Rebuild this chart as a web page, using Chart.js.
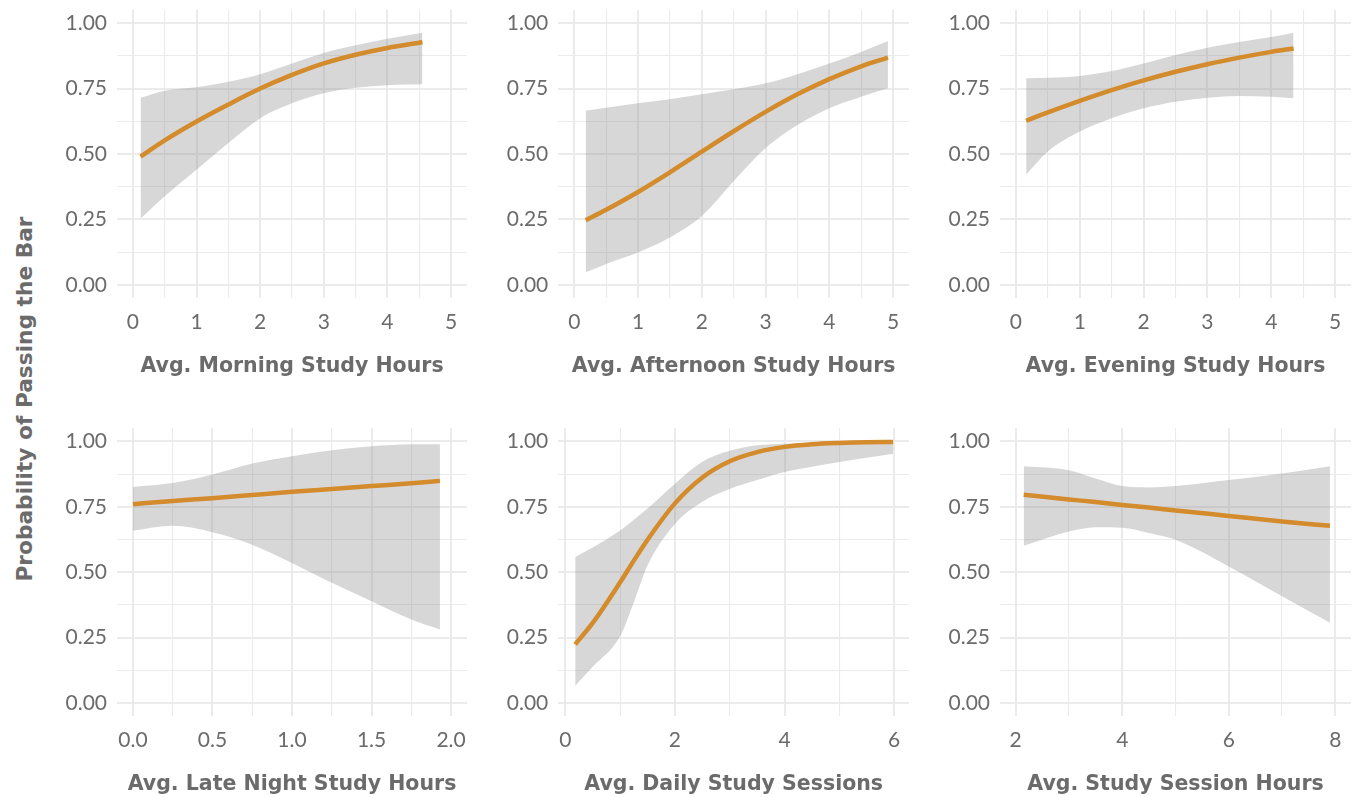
<!DOCTYPE html>
<html>
<head>
<meta charset="utf-8">
<script src="https://cdn.jsdelivr.net/npm/chart.js@4.4.1/dist/chart.umd.min.js"></script>
<style>
  html, body { margin: 0; padding: 0; background: #ffffff; }
  body { width: 1361px; height: 797px; position: relative; overflow: hidden; font-family: Lato, "Open Sans", sans-serif; }
  canvas { position: absolute; }
  #ytitle {
    position: absolute; left: 24px; top: 399px;
    transform: translate(-50%, -50%) rotate(-90deg);
    white-space: nowrap; font-family: "DejaVu Sans", sans-serif; font-weight: bold;
    font-size: 21.7px; color: #6b6b6b;
  }
</style>
</head>
<body>
<div id="ytitle">Probability of Passing the Bar</div>
<canvas id="c1"></canvas><canvas id="c2"></canvas><canvas id="c3"></canvas>
<canvas id="c4"></canvas><canvas id="c5"></canvas><canvas id="c6"></canvas>
<script>
// ---------------- data ----------------
const yTicks = [0, 0.125, 0.25, 0.375, 0.5, 0.625, 0.75, 0.875, 1];
const yMajor = [0, 0.25, 0.5, 0.75, 1];

const morningX     = [0.12, 0.5, 1, 1.5, 2, 2.5, 3, 3.5, 4, 4.55];
const morningFit   = [0.49, 0.552, 0.624, 0.689, 0.75, 0.802, 0.846, 0.879, 0.905, 0.927];
const morningUpper = [0.715, 0.742, 0.755, 0.776, 0.805, 0.846, 0.886, 0.915, 0.94, 0.963];
const morningLower = [0.254, 0.339, 0.44, 0.542, 0.637, 0.694, 0.732, 0.753, 0.763, 0.766];

const afternoonX     = [0.18, 0.5, 1, 1.5, 2, 2.5, 3, 3.5, 4, 4.5, 4.92];
const afternoonFit   = [0.247, 0.287, 0.355, 0.43, 0.509, 0.587, 0.661, 0.728, 0.786, 0.835, 0.868];
const afternoonUpper = [0.666, 0.677, 0.694, 0.709, 0.728, 0.747, 0.77, 0.805, 0.846, 0.89, 0.932];
const afternoonLower = [0.048, 0.08, 0.124, 0.181, 0.263, 0.396, 0.523, 0.611, 0.675, 0.719, 0.751];

const eveningX     = [0.16, 0.5, 1, 1.5, 2, 2.5, 3, 3.5, 4, 4.35];
const eveningFit   = [0.627, 0.659, 0.703, 0.744, 0.781, 0.814, 0.843, 0.868, 0.89, 0.903];
const eveningUpper = [0.789, 0.791, 0.798, 0.817, 0.846, 0.878, 0.906, 0.928, 0.947, 0.963];
const eveningLower = [0.422, 0.51, 0.586, 0.637, 0.675, 0.70, 0.715, 0.722, 0.719, 0.713];

const lateX     = [0, 0.25, 0.5, 0.75, 1, 1.25, 1.5, 1.75, 1.93];
const lateFit   = [0.76, 0.772, 0.783, 0.795, 0.807, 0.818, 0.829, 0.84, 0.849];
const lateUpper = [0.826, 0.841, 0.873, 0.915, 0.943, 0.966, 0.981, 0.989, 0.989];
const lateLower = [0.658, 0.677, 0.653, 0.605, 0.535, 0.459, 0.389, 0.319, 0.281];

const sessionsX     = [0.18, 0.5, 1, 1.25, 1.5, 2, 2.5, 3, 3.5, 4, 4.5, 5, 5.5, 5.98];
const sessionsFit   = [0.224, 0.306, 0.461, 0.544, 0.624, 0.763, 0.862, 0.924, 0.959, 0.979, 0.989, 0.994, 0.997, 0.998];
const sessionsUpper = [0.558, 0.594, 0.659, 0.70, 0.743, 0.838, 0.922, 0.964, 0.985, 0.991, 0.994, 0.996, 0.997, 0.998];
const sessionsLower = [0.066, 0.138, 0.255, 0.385, 0.525, 0.684, 0.769, 0.818, 0.852, 0.883, 0.903, 0.921, 0.937, 0.953];

const hoursX     = [2.15, 3, 3.5, 4, 4.5, 5, 6, 7, 7.9];
const hoursFit   = [0.796, 0.778, 0.768, 0.757, 0.747, 0.736, 0.715, 0.694, 0.677];
const hoursUpper = [0.905, 0.89, 0.858, 0.829, 0.824, 0.829, 0.852, 0.877, 0.905];
const hoursLower = [0.601, 0.655, 0.672, 0.670, 0.650, 0.624, 0.522, 0.408, 0.307];

const xTicksTop   = [0, 0.5, 1, 1.5, 2, 2.5, 3, 3.5, 4, 4.5, 5];
const xMajorTop   = [0, 1, 2, 3, 4, 5];
const xTicksLate  = [0, 0.25, 0.5, 0.75, 1, 1.25, 1.5, 1.75, 2];
const xMajorLate  = [0, 0.5, 1, 1.5, 2];
const xTicksSess  = [0, 1, 2, 3, 4, 5, 6];
const xMajorSess  = [0, 2, 4, 6];
const xTicksHours = [2, 3, 4, 5, 6, 7, 8];
const xMajorHours = [2, 4, 6, 8];

// ---------------- style ----------------
const LINE = '#D38B2B';
const RIBBON = 'rgba(150,150,150,0.38)';
const GRID = '#ebebeb';
const TEXT = '#6b6b6b';
const FONT = 'Lato, "Open Sans", sans-serif';
const TFONT = '"DejaVu Sans", sans-serif';

function pts(xs, ys) { return xs.map((x, i) => ({x: x, y: ys[i]})); }
function has(arr, v) { return arr.some(a => Math.abs(a - v) < 1e-9); }

function panel(id, cfg) {
  const cv = document.getElementById(id);
  cv.width = cfg.w; cv.height = cfg.h;
  cv.style.left = cfg.left + 'px'; cv.style.top = cfg.topPx + 'px';
  cv.style.width = cfg.w + 'px'; cv.style.height = cfg.h + 'px';
  new Chart(cv, {
    type: 'line',
    data: {
      datasets: [
        { data: pts(cfg.xs, cfg.fit), borderColor: LINE, borderWidth: 4.5, pointRadius: 0,
          cubicInterpolationMode: 'monotone', fill: false, borderCapStyle: 'butt' },
        { data: pts(cfg.xs, cfg.up), borderWidth: 0, borderColor: 'rgba(0,0,0,0)', pointRadius: 0,
          cubicInterpolationMode: 'monotone', fill: '+1', backgroundColor: RIBBON },
        { data: pts(cfg.xs, cfg.lo), borderWidth: 0, borderColor: 'rgba(0,0,0,0)', pointRadius: 0,
          cubicInterpolationMode: 'monotone', fill: false }
      ]
    },
    options: {
      responsive: false, animation: false, devicePixelRatio: 1,
      layout: { padding: { top: cfg.padTop, left: 0, right: 0, bottom: 0 } },
      plugins: { legend: { display: false }, tooltip: { enabled: false } },
      scales: {
        x: {
          type: 'linear', min: cfg.xmin, max: cfg.xmax,
          afterBuildTicks: s => { s.ticks = cfg.xticks.map(v => ({value: v})); },
          afterFit: s => { s.height = cfg.xh; s.paddingLeft = 0; s.paddingRight = 0; s.paddingTop = 0; s.paddingBottom = 0; },
          border: { display: false },
          grid: { color: GRID, drawTicks: false,
                  lineWidth: c => (c.tick && has(cfg.xmajor, c.tick.value)) ? 2 : 1.1 },
          ticks: { autoSkip: false, maxRotation: 0, padding: cfg.tickPadX, color: TEXT,
                   font: { family: FONT, size: 21 },
                   callback: v => has(cfg.xmajor, v) ? cfg.fmt(v) : '' },
          title: { display: true, text: cfg.title, color: TEXT,
                   font: { family: TFONT, size: 20.5, weight: 'bold' },
                   padding: { top: 0, bottom: cfg.titlePad } }
        },
        y: {
          type: 'linear', min: -0.05, max: 1.05,
          afterBuildTicks: s => { s.ticks = yTicks.map(v => ({value: v})); },
          afterFit: s => { s.width = cfg.yw; s.paddingTop = 0; s.paddingBottom = 0; s.paddingLeft = 0; s.paddingRight = 0; },
          border: { display: false },
          grid: { color: GRID, drawTicks: false,
                  lineWidth: c => (c.tick && has(yMajor, c.tick.value)) ? 2 : 1.1 },
          ticks: { autoSkip: false, padding: 10, color: TEXT,
                   font: { family: FONT, size: 21 },
                   callback: v => has(yMajor, v) ? v.toFixed(2) : '' }
        }
      }
    }
  });
}

const fmtInt = v => String(v);
const fmt1 = v => v.toFixed(1);
const rowTop = { topPx: 0, h: 400, padTop: 10, xh: 102, tickPadX: 12, titlePad: 21 };
const rowBot = { topPx: 400, h: 397, padTop: 28.3, xh: 81, tickPadX: 12, titlePad: 0 };
const cols = [
  { left: 40, w: 427, yw: 77 },
  { left: 470, w: 439, yw: 88.3 },
  { left: 912, w: 439, yw: 88 }
];

panel('c1', Object.assign({}, rowTop, cols[0], { xs: morningX, fit: morningFit, up: morningUpper, lo: morningLower,
  xmin: -0.25, xmax: 5.25, xticks: xTicksTop, xmajor: xMajorTop, fmt: fmtInt, title: 'Avg. Morning Study Hours' }));
panel('c2', Object.assign({}, rowTop, cols[1], { xs: afternoonX, fit: afternoonFit, up: afternoonUpper, lo: afternoonLower,
  xmin: -0.25, xmax: 5.25, xticks: xTicksTop, xmajor: xMajorTop, fmt: fmtInt, title: 'Avg. Afternoon Study Hours' }));
panel('c3', Object.assign({}, rowTop, cols[2], { xs: eveningX, fit: eveningFit, up: eveningUpper, lo: eveningLower,
  xmin: -0.25, xmax: 5.25, xticks: xTicksTop, xmajor: xMajorTop, fmt: fmtInt, title: 'Avg. Evening Study Hours' }));
panel('c4', Object.assign({}, rowBot, cols[0], { xs: lateX, fit: lateFit, up: lateUpper, lo: lateLower,
  xmin: -0.1, xmax: 2.1, xticks: xTicksLate, xmajor: xMajorLate, fmt: fmt1, title: 'Avg. Late Night Study Hours' }));
panel('c5', Object.assign({}, rowBot, cols[1], { xs: sessionsX, fit: sessionsFit, up: sessionsUpper, lo: sessionsLower,
  xmin: -0.128, xmax: 6.27, xticks: xTicksSess, xmajor: xMajorSess, fmt: fmtInt, title: 'Avg. Daily Study Sessions' }));
panel('c6', Object.assign({}, rowBot, cols[2], { xs: hoursX, fit: hoursFit, up: hoursUpper, lo: hoursLower,
  xmin: 1.705, xmax: 8.295, xticks: xTicksHours, xmajor: xMajorHours, fmt: fmtInt, title: 'Avg. Study Session Hours' }));
</script>
</body>
</html>
